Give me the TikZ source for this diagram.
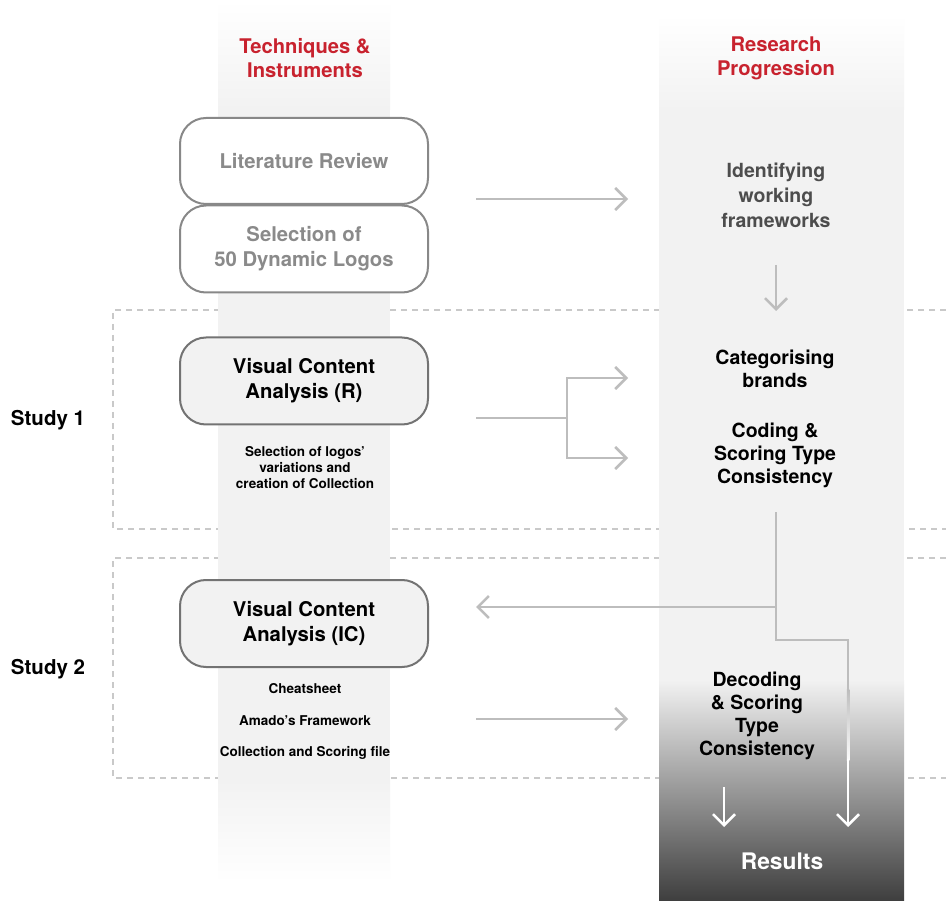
\documentclass[tikz,border=0pt]{standalone}
\usepackage{fontspec}
\setmainfont{TeX Gyre Heros}
\usetikzlibrary{arrows.meta}
\definecolor{hdr}{HTML}{C8222E}
\definecolor{band}{HTML}{F2F2F2}
\definecolor{arr}{HTML}{BDBDBD}
\definecolor{dashc}{HTML}{C9C9C9}
\definecolor{boxline}{HTML}{888888}
\definecolor{boxlineb}{HTML}{737373}
\definecolor{dimtext}{HTML}{8A8A8A}
\definecolor{midtext}{HTML}{4D4D4D}
\definecolor{darkend}{HTML}{3E3E3E}
\begin{document}
\begin{tikzpicture}[x=1pt,y=-1pt,
  every node/.style={font=\fontsize{19.5}{25}\selectfont\bfseries, align=center, inner sep=0pt},
  hdr/.style={text=hdr, font=\fontsize{20.2}{24}\selectfont\bfseries},
  leftt/.style={font=\fontsize{20.3}{25}\selectfont\bfseries},
  tight/.style={font=\fontsize{19.5}{23}\selectfont\bfseries},
  smalltxt/.style={font=\fontsize{13.5}{16}\selectfont\bfseries},
  studyt/.style={font=\fontsize{20.5}{25}\selectfont\bfseries},
  studybox/.style={draw=dashc, line width=2pt, dash pattern=on 6pt off 5pt},
  topbox/.style={leftt, draw=boxline, line width=2pt, fill=white, rounded corners=26pt,
    minimum width=248pt, text=dimtext},
  vcabox/.style={leftt, draw=boxlineb, line width=2pt, fill=band, rounded corners=26pt,
    minimum width=248pt, minimum height=87pt},
  conn/.style={draw=arr, line width=2.5pt},
  arrow/.style={conn, -{Straight Barb[length=11pt,width=22pt,line width=2.5pt]}},
  warrow/.style={draw=white, line width=2.5pt, -{Straight Barb[length=11pt,width=22pt,line width=2.5pt]}}
]
\useasboundingbox (0,0) rectangle (946,901);
\fill[white] (0,0) rectangle (946,901);

% study frames
\draw[studybox] (946,310) -- (113,310) -- (113,529) -- (946,529);
\draw[studybox] (946,558) -- (113,558) -- (113,778) -- (946,778);

% left band
\shade[top color=white, bottom color=band] (218,0) rectangle (390,110);
\fill[band] (218,109) rectangle (390,781);
\shade[top color=band, bottom color=white] (218,780) rectangle (390,882);

% right band
\shade[top color=white, bottom color=band] (659,15) rectangle (904,110);
\fill[band] (659,109) rectangle (904,681);
\shade[top color=band, middle color=black!42, bottom color=darkend] (659,680) rectangle (904,901);

% headers
\node[hdr] (h1) at (305,58) {Techniques \&\\Instruments};
\node[hdr] (h2) at (776,58) {Research\\Progression};

% left boxes
\node[topbox, minimum height=86pt] (lit) at (304,161) {Literature Review};
\node[topbox, minimum height=87pt] (sel) at (304,249) {Selection of\\50 Dynamic Logos};
\node[vcabox] (vcar) at (304,381) {Visual Content\\Analysis (R)};
\node[vcabox] (vcaic) at (304,623.5) {Visual Content\\Analysis (IC)};

\node[smalltxt] (selvar) at (305,468) {Selection of logos'\\variations and\\creation of Collection};
\node[smalltxt] (cheat) at (305,689) {Cheatsheet};
\node[smalltxt] (amado) at (305,721) {Amado's Framework};
\node[smalltxt] (collsc) at (305,753) {Collection and Scoring file};

\node[studyt] (s1) at (48,420) {Study 1};
\node[studyt] (s2) at (48,669) {Study 2};

% right texts
\node[text=midtext] (ident) at (776,195.5) {Identifying\\working\\frameworks};
\node[tight] (categ) at (775,369) {Categorising\\brands};
\node[tight] (coding) at (775,455.5) {Coding \&\\Scoring Type\\Consistency};
\node[tight] (decod) at (757,716) {Decoding\\\& Scoring\\Type\\Consistency};
\node[text=white, font=\fontsize{22.8}{26}\selectfont\bfseries] (res) at (782,861) {Results};

% connector coordinates
\coordinate (a1s) at (476,199);
\coordinate (a1e) at (628,199);
\coordinate (a2s) at (776,265);
\coordinate (a2e) at (776,311);
\coordinate (b0) at (476,418);
\coordinate (bj) at (567,418);
\coordinate (bt) at (628,378);
\coordinate (bb) at (628,458);
\coordinate (c0) at (776,512);
\coordinate (cj) at (776,607);
\coordinate (ce) at (476,607);
\coordinate (ck) at (848,640);
\coordinate (cf) at (848,690);
\coordinate (cg) at (848,759);
\coordinate (ch) at (848,827);

\coordinate (d0) at (476,719);
\coordinate (d1) at (628,719);
\coordinate (r0) at (724,787);
\coordinate (r1) at (724,827);

% connectors
\draw[arrow] (a1s) -- (a1e);
\draw[arrow] (a2s) -- (a2e);
\draw[conn] (b0) -- (bj);
\draw[arrow] (bj) |- (bt);
\draw[arrow] (bj) |- (bb);
\draw[conn] (c0) -- (cj);
\draw[arrow] (cj) -- (ce);
\draw[conn] (cj) |- (ck) -- (cf);
\shade[top color=arr, bottom color=white!95!arr] (846.75,689.5) rectangle (849.25,760);
\draw[warrow] (cg) -- (ch);
\draw[arrow] (d0) -- (d1);
\draw[warrow] (r0) -- (r1);
\end{tikzpicture}
\end{document}
